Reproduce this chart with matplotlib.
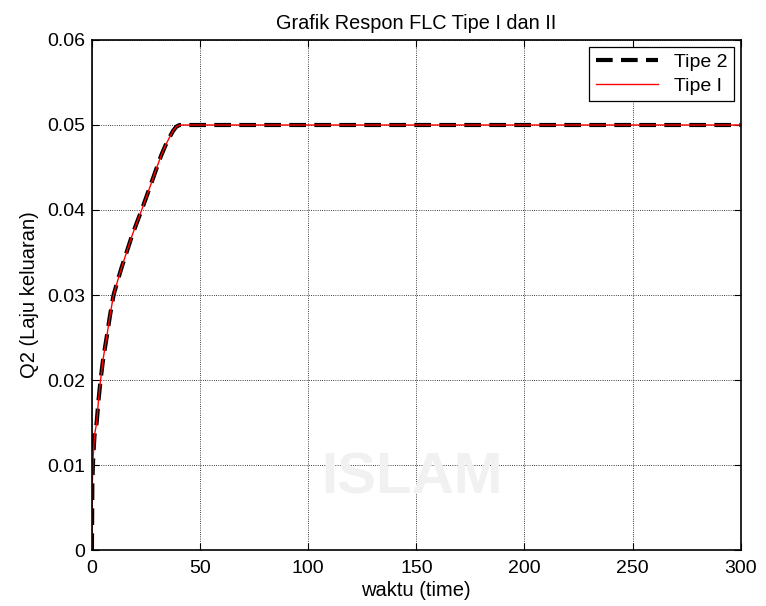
import matplotlib
matplotlib.use('Agg')
from matplotlib import pyplot as plt
import numpy as np

plt.rcParams['font.family'] = ['Liberation Sans', 'DejaVu Sans']

# response (time, Q2)
waktu = [0, 0.2, 0.6, 1.2, 2.2, 3.0, 4.0, 5.2, 6.8, 8.3, 10.0, 11.8, 13.8, 16.0,
         18.3, 20.6, 23.0, 25.4, 27.8, 30.0, 32.0, 34.0, 36.0, 37.5, 39.0, 40.5,
         42.0, 300]
tipe2 = [0, 0.008, 0.011, 0.0135, 0.015, 0.0175, 0.020, 0.0225, 0.025, 0.0275,
         0.030, 0.0316, 0.0333, 0.035, 0.0368, 0.0384, 0.040, 0.0417, 0.0434,
         0.045, 0.0464, 0.0476, 0.0486, 0.0493, 0.0498, 0.0500, 0.0500, 0.0500]
tipe1 = list(tipe2)

fig = plt.figure(figsize=(7.66, 6.06), dpi=100)
ax = fig.add_axes([0.120, 0.0924, 0.847, 0.8416])
ax.set_facecolor('none')

# faint watermark of the source document
fig.text(0.537, 0.21, 'ISLAM', fontsize=42, fontweight='bold', color='#f1f1f1',
         ha='center', va='center', zorder=0)

ax.plot(waktu, tipe2, color='black', linestyle='--', linewidth=3,
        dashes=(4, 2), label='Tipe 2')
ax.plot(waktu, tipe1, color='red', linewidth=1, label='Tipe I')

ax.set_xlim(0, 300)
ax.set_ylim(0, 0.06)
ax.set_xticks(np.arange(0, 301, 50))
ax.set_yticks(np.arange(0, 0.061, 0.01))
ax.set_yticklabels(['0', '0.01', '0.02', '0.03', '0.04', '0.05', '0.06'])
ax.tick_params(direction='in', labelsize=14, length=5, top=True, right=True)
ax.tick_params(axis='x', pad=7)
ax.tick_params(axis='y', pad=5)
ax.grid(True, color='black', linestyle=':', linewidth=0.6)
for s in ax.spines.values():
    s.set_linewidth(1.2)

ax.set_title('Grafik Respon FLC Tipe I dan II', fontsize=14.3, pad=8)
ax.set_xlabel('waktu (time)', fontsize=14.5, labelpad=3)
ax.set_ylabel('Q2 (Laju keluaran)', fontsize=14.5, labelpad=6)

leg = ax.legend(loc='upper right', fontsize=14, fancybox=False, framealpha=1,
                edgecolor='black', handlelength=3.2, borderaxespad=0.35,
                borderpad=0.35, labelspacing=0.3)
leg.get_frame().set_linewidth(0.9)

fig.savefig('out.png', dpi=100)
